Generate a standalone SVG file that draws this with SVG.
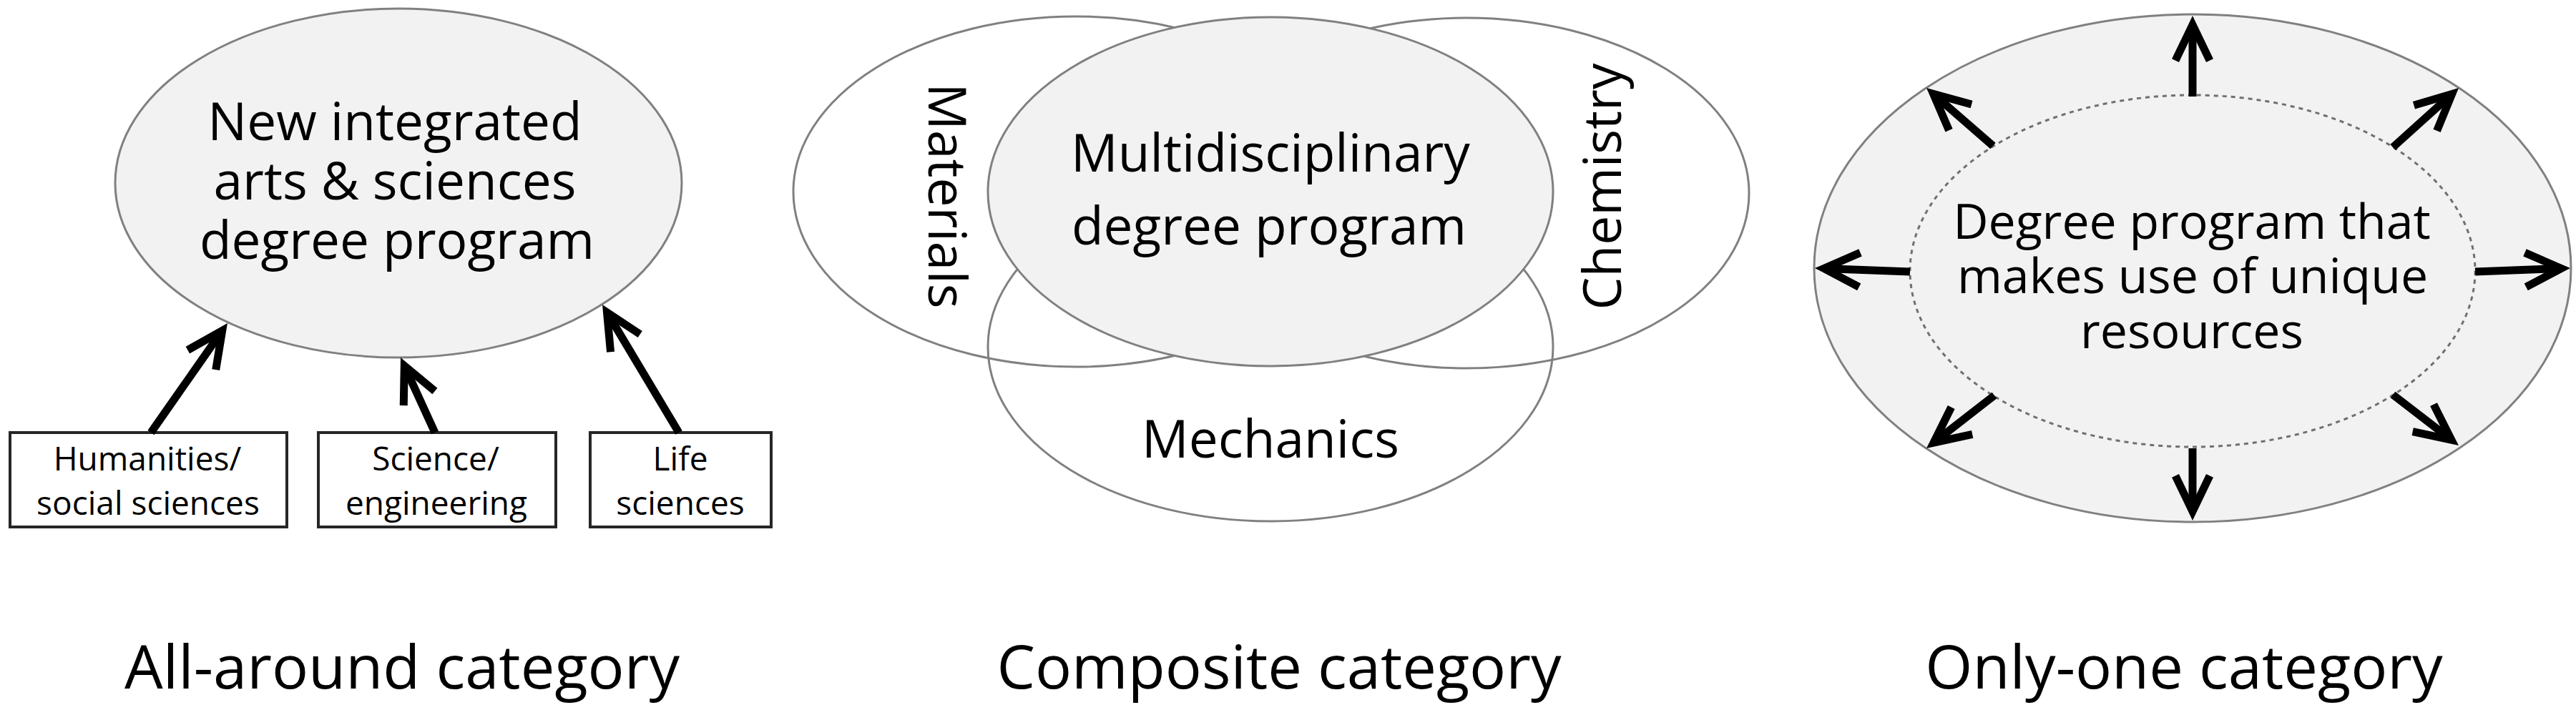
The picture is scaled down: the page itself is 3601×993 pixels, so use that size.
<svg xmlns="http://www.w3.org/2000/svg" width="3601" height="993" viewBox="0 0 3601 993">
<style>
text{font-family:"Open Sans","Noto Sans",sans-serif;fill:#000;text-anchor:middle}
.lbl{font-size:73px}
.rl{font-size:68px}
.sm{font-size:46px}
.ttl{font-size:85px}
.ell{fill:#f2f2f2;stroke:#808080;stroke-width:3}
.ring{fill:none;stroke:#808080;stroke-width:3}
.dash{fill:none;stroke:#707070;stroke-width:3;stroke-dasharray:6 6}
.box{fill:#fff;stroke:#262626;stroke-width:4}
.arr{fill:none;stroke:#000;stroke-width:11;marker-end:url(#ah)}
</style>
<defs>
<marker id="ah" markerUnits="userSpaceOnUse" viewBox="-70 -40 100 80" markerWidth="100" markerHeight="80" refX="0" refY="0" orient="auto" overflow="visible">
<path d="M-50,-24 L0,0 L-50,24" fill="none" stroke="#000" stroke-width="11"/>
</marker>
</defs>
<rect width="3601" height="993" fill="#fff"/>

<g id="allaround-main">
<ellipse class="ell" cx="557" cy="256" rx="396" ry="244"/>
<text class="lbl"><tspan x="552" y="196">New integrated</tspan><tspan x="552" y="279">arts &amp; sciences</tspan><tspan x="555" y="362">degree program</tspan></text>
</g>
<g id="box-humanities">
<rect class="box" x="14" y="605" width="387" height="132"/>
<text class="sm"><tspan x="206" y="658">Humanities/</tspan><tspan x="207" y="720">social sciences</tspan></text>
</g>
<g id="box-science">
<rect class="box" x="445" y="605" width="332" height="132"/>
<text class="sm"><tspan x="609" y="658">Science/</tspan><tspan x="610" y="720">engineering</tspan></text>
</g>
<g id="box-life">
<rect class="box" x="825" y="605" width="253" height="132"/>
<text class="sm"><tspan x="951" y="658">Life</tspan><tspan x="951" y="720">sciences</tspan></text>
</g>

<g id="composite-materials">
<ellipse class="ring" cx="1504" cy="268" rx="395" ry="245"/>
<text class="lbl" transform="translate(1298,274) rotate(90)" x="0" y="0">Materials</text>
</g>
<g id="composite-chemistry">
<ellipse class="ring" cx="2050" cy="270" rx="395" ry="245"/>
<text class="lbl" transform="translate(2266,261) rotate(-90)" x="0" y="0">Chemistry</text>
</g>
<g id="composite-mechanics">
<ellipse class="ring" cx="1776" cy="485" rx="395" ry="244"/>
<text class="lbl" x="1776" y="640">Mechanics</text>
</g>
<g id="composite-main">
<ellipse class="ell" cx="1776" cy="268" rx="395" ry="244"/>
<text class="lbl"><tspan x="1776" y="240">Multidisciplinary</tspan><tspan x="1774" y="342">degree program</tspan></text>
</g>

<g id="onlyone-outer">
<ellipse class="ell" cx="3065" cy="375" rx="529" ry="355"/>
</g>
<g id="onlyone-inner">
<ellipse class="dash" cx="3065" cy="379" rx="395" ry="246"/>
<text class="rl"><tspan x="3064" y="334">Degree program that</tspan><tspan x="3065" y="410">makes use of unique</tspan><tspan x="3064" y="487">resources</tspan></text>
</g>

<g id="connectors">
<line class="arr" x1="211" y1="605" x2="310.7" y2="462.4"/>
<line class="arr" x1="608" y1="605" x2="565.3" y2="511.6"/>
<line class="arr" x1="949" y1="605" x2="848.5" y2="436.9"/>
<line class="arr" x1="3065" y1="135" x2="3065" y2="34.7"/>
<line class="arr" x1="3065" y1="627" x2="3065" y2="715.3"/>
<line class="arr" x1="2670" y1="380" x2="2549.7" y2="375.5"/>
<line class="arr" x1="3460" y1="380" x2="3580.3" y2="375.5"/>
<line class="arr" x1="2786" y1="204" x2="2702.6" y2="131.3"/>
<line class="arr" x1="3345" y1="206" x2="3427.6" y2="131.5"/>
<line class="arr" x1="2788" y1="553" x2="2703" y2="619.2"/>
<line class="arr" x1="3345" y1="552" x2="3426.9" y2="615.2"/>
</g>

<g id="titles">
<text class="ttl" x="562" y="963">All-around category</text>
<text class="ttl" x="1788" y="963">Composite category</text>
<text class="ttl" x="3053" y="963">Only-one category</text>
</g>
</svg>
